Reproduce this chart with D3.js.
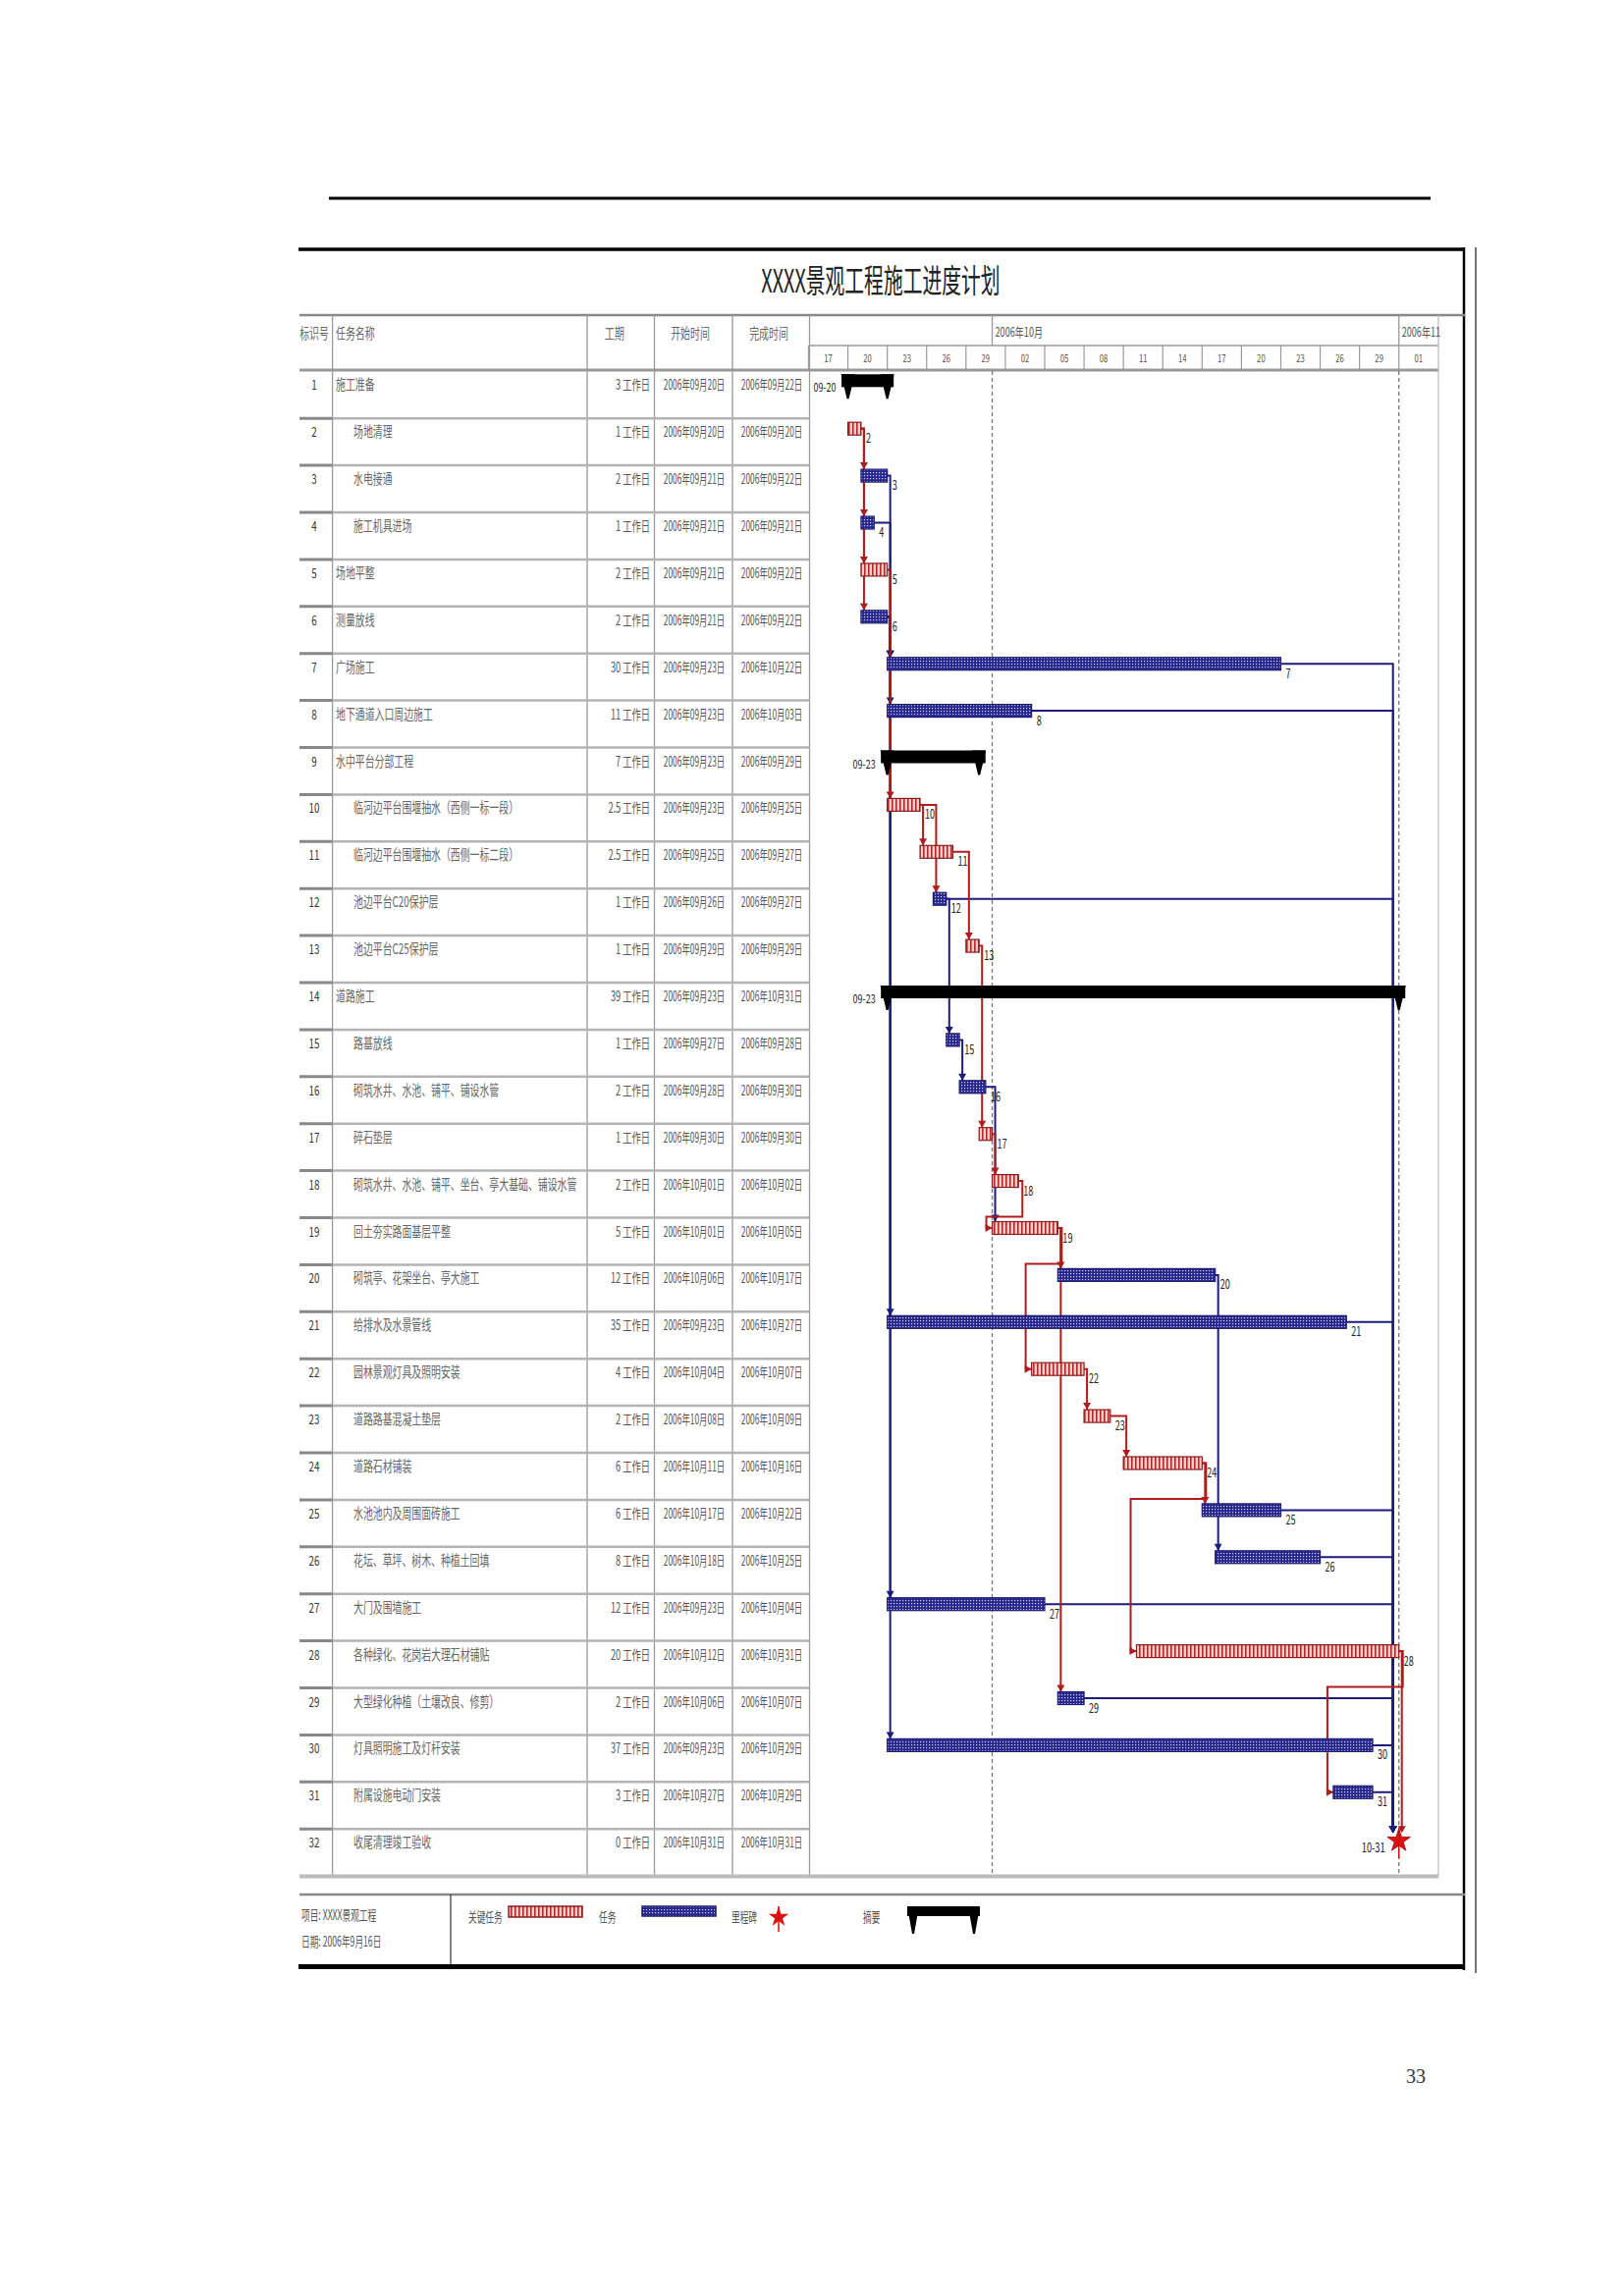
<!DOCTYPE html>
<html><head><meta charset="utf-8">
<script src="https://cdn.jsdelivr.net/npm/d3@7"></script>
<style>html,body{margin:0;padding:0;background:#fff;}svg{display:block;}</style>
</head><body>
<svg id="c" width="1654" height="2339"></svg>
<script>
// ---------------- data ----------------
const chartTitle = "XXXX景观工程施工进度计划";
const headerLabels = ["标识号", "任务名称", "工期", "开始时间", "完成时间"];
const ids = d3.range(1, 33);
const taskNames = [
  "施工准备", "场地清理", "水电接通", "施工机具进场", "场地平整", "测量放线",
  "广场施工", "地下通道入口周边施工", "水中平台分部工程",
  "临河边平台围堰抽水（西侧一标一段）", "临河边平台围堰抽水（西侧一标二段）",
  "池边平台C20保护层", "池边平台C25保护层", "道路施工", "路基放线",
  "砌筑水井、水池、铺平、铺设水管", "碎石垫层",
  "砌筑水井、水池、铺平、坐台、亭大基础、铺设水管", "回土夯实路面基层平整",
  "砌筑亭、花架坐台、亭大施工", "给排水及水景管线", "园林景观灯具及照明安装",
  "道路路基混凝土垫层", "道路石材铺装", "水池池内及周围面砖施工",
  "花坛、草坪、树木、种植土回填", "大门及围墙施工", "各种绿化、花岗岩大理石材铺贴",
  "大型绿化种植（土壤改良、修剪）", "灯具照明施工及灯杆安装", "附属设施电动门安装",
  "收尾清理竣工验收"
];
const levels = [0,1,1,1,0,0,0,0,0,1,1,1,1,0,1,1,1,1,1,1,1,1,1,1,1,1,1,1,1,1,1,1];
const taskTypes = ["summary","critical","task","task","critical","task","task","task","summary",
  "critical","critical","task","critical","summary","task","task","critical","critical","critical",
  "task","task","critical","critical","critical","task","task","task","critical","task","task","task","milestone"];
const startDates = [
  "2006-09-20 00:00","2006-09-20 00:00","2006-09-21 00:00","2006-09-21 00:00","2006-09-21 00:00","2006-09-21 00:00",
  "2006-09-23 00:00","2006-09-23 00:00","2006-09-23 00:00","2006-09-23 00:00","2006-09-25 12:00","2006-09-26 12:00",
  "2006-09-29 00:00","2006-09-23 00:00","2006-09-27 12:00","2006-09-28 12:00","2006-09-30 00:00","2006-10-01 00:00",
  "2006-10-01 00:00","2006-10-06 00:00","2006-09-23 00:00","2006-10-04 00:00","2006-10-08 00:00","2006-10-11 00:00",
  "2006-10-17 00:00","2006-10-18 00:00","2006-09-23 00:00","2006-10-12 00:00","2006-10-06 00:00","2006-09-23 00:00",
  "2006-10-27 00:00","2006-10-31 23:59"
];
const durations = [3,1,2,1,2,2,30,11,7,2.5,2.5,1,1,39,1,2,1,2,5,12,35,4,2,6,6,8,12,20,2,37,3,0];
const links = [[2,3],[2,4],[2,5],[2,6],[3,7],[4,7],[6,7],[6,8],[6,21],[6,27],[6,30],[5,10],
  [10,11],[10,12],[11,13],[12,15],[13,17],[15,16],[16,19],[17,18],[18,19],[19,20],[19,22],[19,29],
  [22,23],[23,24],[24,25],[24,28],[20,26],[28,31],
  [7,32],[8,32],[12,32],[21,32],[25,32],[26,32],[27,32],[29,32],[30,32],[31,32],[28,32]];
const timeDomain = ["2006-09-17 00:00", "2006-11-04 00:00"];
const monthLabels = [["2006-10-01 00:00","2006年10月"],["2006-11-01 00:00","2006年11"]];
const tickDayLabels = ["17","20","23","26","29","02","05","08","11","14","17","20","23","26","29","01"];
const legendProject = ["项目: XXXX景观工程", "日期: 2006年9月16日"];
const legendItems = ["关键任务", "任务", "里程碑", "摘要"];
const pageNumber = "33";

// ---------------- setup ----------------
const parse = d3.timeParse("%Y-%m-%d %H:%M");
const fmtDate = d3.timeFormat("%Y年%m月%d日");
const fmtShort = d3.timeFormat("%m-%d");
const svg = d3.select("#c");
const FONT = "'Noto Sans CJK SC','Noto Sans',sans-serif";

const x = d3.scaleTime().domain(timeDomain.map(parse)).range([823.5, 1464.8]);
const y = d3.scaleBand().domain(ids).range([378.3, 1911.1]).paddingInner(0).paddingOuter(0);
const RH = y.bandwidth();

const tasks = ids.map((id, i) => {
  const s = parse(startDates[i]);
  const e = new Date(+s + durations[i] * 864e5);
  return {id, name: taskNames[i], level: levels[i], type: taskTypes[i], start: s, end: e, dur: durations[i]};
});
const byId = new Map(tasks.map(t => [t.id, t]));

function sText(g, px, py, str, o = {}) {
  return g.append("text")
    .attr("transform", `translate(${px},${py}) scale(${o.sx ?? 0.66},1)`)
    .attr("text-anchor", o.anchor || "start")
    .attr("font-size", o.size || 15)
    .attr("font-family", o.family || FONT)
    .attr("font-weight", o.weight || "normal")
    .attr("fill", o.fill || "#555")
    .text(str);
}
function line(g, x1, y1, x2, y2, stroke, w, dash) {
  const l = g.append("line").attr("x1", x1).attr("y1", y1).attr("x2", x2).attr("y2", y2)
    .attr("stroke", stroke).attr("stroke-width", w);
  if (dash) l.attr("stroke-dasharray", dash);
  return l;
}

// patterns
const defs = svg.append("defs");
const pc = defs.append("pattern").attr("id", "crit").attr("patternUnits", "userSpaceOnUse").attr("width", 4).attr("height", 4);
pc.append("rect").attr("width", 4).attr("height", 4).attr("fill", "#f5cccc");
pc.append("rect").attr("width", 1.6).attr("height", 4).attr("fill", "#b22a2a");
const pt = defs.append("pattern").attr("id", "task").attr("patternUnits", "userSpaceOnUse").attr("width", 3).attr("height", 3);
pt.append("rect").attr("width", 3).attr("height", 3).attr("fill", "#26268e");
pt.append("rect").attr("x", 1).attr("y", 1).attr("width", 1.2).attr("height", 1.2).attr("fill", "#cfcff2");

// ---------------- page frame ----------------
const frame = svg.append("g");
line(frame, 335, 202, 1457, 202, "#000", 3);
line(frame, 304, 254, 1492, 254, "#000", 3.5);
line(frame, 1491, 252, 1491, 2007, "#000", 2.5);
line(frame, 1503, 252, 1503, 2010, "#444", 1.5);
line(frame, 304, 2003.5, 1492, 2003.5, "#000", 5);

// title
sText(frame, 897, 298, chartTitle, {size: 33, sx: 0.6, anchor: "middle", fill: "#222"});

// ---------------- table grid ----------------
const grid = svg.append("g");
line(grid, 305, 321, 1492, 321, "#888", 2.5);
line(grid, 824.5, 352, 1465, 352, "#999", 1.5);
line(grid, 305, 377, 1465, 377, "#999", 3);
[338.6, 598, 666.5, 746, 824.5].forEach(cx => line(grid, cx, 321, cx, 1911, "#999", 1.3));
line(grid, 1465, 321, 1465, 1911, "#bbb", 1.2);
ids.slice(1).forEach(id => {
  const yy = y(id);
  line(grid, 338.6, yy, 824.5, yy, "#b3b3b3", 2.5);
  line(grid, 305, yy, 338.6, yy, "#888", 3);
});
line(grid, 305, 1911.5, 1465, 1911.5, "#bbb", 4);

// header labels
const hx = [[320, "middle"], [342, "start"], [626, "middle"], [703, "middle"], [783, "middle"]];
headerLabels.forEach((h, i) => sText(grid, hx[i][0], 345, h, {anchor: hx[i][1], size: 15, sx: 0.66, fill: "#666"}));

// timescale
monthLabels.forEach(([d, lab]) => {
  const mx = x(parse(d));
  line(grid, mx, 321, mx, 352, "#999", 1.3);
  sText(grid, mx + 3, 343, lab, {size: 13, sx: 0.7, fill: "#555"});
});
const tickDates = d3.timeDay.every(1).range(x.domain()[0], x.domain()[1]).filter((d, i) => i % 3 === 0);
tickDates.forEach((d, i) => {
  const tx = x(d);
  line(grid, tx, 352, tx, 377, "#999", 1.2);
  if (i < tickDayLabels.length) sText(grid, tx + 20, 369, tickDayLabels[i], {size: 11, sx: 0.7, anchor: "middle", fill: "#555"});
});
// dashed month lines in chart body
monthLabels.forEach(([d]) => {
  const mx = x(parse(d));
  line(grid, mx, 378, mx, 1910, "#777", 1.3, "4,3");
});

// table text
const tbl = svg.append("g");
tasks.forEach(t => {
  const top = y(t.id);
  const by = top + 19;
  sText(tbl, 320, by, String(t.id), {anchor: "middle", size: 14, sx: 0.7, fill: "#333"});
  sText(tbl, t.level ? 360 : 342, by, t.name, {size: 15, sx: 0.66, fill: "#666"});
  sText(tbl, 662, by, t.dur + " 工作日", {anchor: "end", size: 14, sx: 0.66, fill: "#555"});
  const fin = t.dur === 0 ? t.start : new Date(+t.end - 1);
  sText(tbl, 707, by, fmtDate(t.start), {anchor: "middle", size: 14, sx: 0.6, fill: "#555"});
  sText(tbl, 786, by, fmtDate(fin), {anchor: "middle", size: 14, sx: 0.6, fill: "#555"});
});

// ---------------- links ----------------
const lk = svg.append("g").attr("fill", "none");
const BAR_T = 4, BAR_H = 13, MID = BAR_T + BAR_H / 2;
function arrowDown(g, ax, tip, col) {
  g.append("path").attr("d", `M${ax - 4},${tip - 7}L${ax + 4},${tip - 7}L${ax},${tip}Z`).attr("fill", col).attr("stroke", "none");
}
function arrowRight(g, tip, ay, col) {
  g.append("path").attr("d", `M${tip - 7},${ay - 4}L${tip - 7},${ay + 4}L${tip},${ay}Z`).attr("fill", col).attr("stroke", "none");
}
const sortedLinks = links.slice().sort((a, b) => (byId.get(a[0]).type === "critical") - (byId.get(b[0]).type === "critical"));
sortedLinks.forEach(([p, s]) => {
  const P = byId.get(p), S = byId.get(s);
  const col = P.type === "critical" ? "#b01c1c" : "#1c1c7c";
  const pe = x(P.end), py = y(p) + MID, sx = x(S.start), st = y(s);
  if (S.type === "milestone") {
    const vx = Math.max(pe + 3, sx - 6);
    lk.append("path").attr("d", `M${pe},${py}H${vx}V${st + 2}`).attr("stroke", col).attr("stroke-width", 2);
    arrowDown(lk, vx, st + 4, col);
  } else if (sx + 1 >= pe) {
    const vx = sx + 3;
    lk.append("path").attr("d", `M${pe},${py}H${vx}V${st + BAR_T}`).attr("stroke", col).attr("stroke-width", 2);
    arrowDown(lk, vx, st + BAR_T, col);
  } else {
    const xe = pe + 4, yb = y(p) + RH - 1, sy = st + MID;
    lk.append("path").attr("d", `M${pe},${py}H${xe}V${yb}H${sx - 6}V${sy}H${sx}`).attr("stroke", col).attr("stroke-width", 2);
    arrowRight(lk, sx, sy, col);
  }
});

// ---------------- bars ----------------
const bars = svg.append("g");
function summaryShape(g, xs, xe, top) {
  g.append("rect").attr("x", xs - 6.5).attr("y", top + 3).attr("width", xe - xs + 13).attr("height", 13).attr("fill", "#000");
  [xs, xe].forEach(cx => g.append("path").attr("d", `M${cx - 7},${top + 3}L${cx + 7},${top + 3}L${cx + 1},${top + 28}L${cx - 1},${top + 28}Z`).attr("fill", "#000"));
}
tasks.forEach(t => {
  const top = y(t.id);
  const xs = x(t.start), xe = x(t.end);
  if (t.type === "summary") {
    summaryShape(bars, xs, xe, top);
    sText(bars, xs - 12, top + 21, fmtShort(t.start), {anchor: "end", size: 12, sx: 0.75, fill: "#222"});
  } else if (t.type === "milestone") {
    bars.append("path").attr("d", d3.symbol(d3.symbolStar, 170)())
      .attr("transform", `translate(${xs},${top + 12})`).attr("fill", "#e01010").attr("stroke", "#900").attr("stroke-width", 0.8);
    line(bars, xs, top + 2, xs, top + 30, "#d01010", 1.5);
    sText(bars, xs - 14, top + 24, fmtShort(t.start), {anchor: "end", size: 13, sx: 0.72, fill: "#222"});
  } else {
    const crit = t.type === "critical";
    bars.append("rect").attr("x", xs).attr("y", top + BAR_T).attr("width", Math.max(1, xe - xs)).attr("height", BAR_H)
      .attr("fill", crit ? "url(#crit)" : "url(#task)").attr("stroke", crit ? "#8b1c1c" : "#1c1c70").attr("stroke-width", 1.2);
    sText(bars, xe + 5, top + 25, String(t.id), {size: 13, sx: 0.7, fill: "#222"});
  }
});

// ---------------- legend ----------------
const lg = svg.append("g");
line(lg, 305, 1930, 1492, 1930, "#888", 2.5);
line(lg, 459, 1930, 459, 2002, "#333", 1.2);
sText(lg, 307, 1956, legendProject[0], {size: 14, sx: 0.62, fill: "#555"});
sText(lg, 307, 1983, legendProject[1], {size: 14, sx: 0.62, fill: "#555"});
sText(lg, 477, 1958, legendItems[0], {size: 14, sx: 0.62, fill: "#555"});
lg.append("rect").attr("x", 518).attr("y", 1942).attr("width", 75).attr("height", 11).attr("fill", "url(#crit)").attr("stroke", "#8b1c1c").attr("stroke-width", 1.5);
sText(lg, 610, 1958, legendItems[1], {size: 14, sx: 0.62, fill: "#555"});
lg.append("rect").attr("x", 654).attr("y", 1942).attr("width", 75).attr("height", 10).attr("fill", "url(#task)").attr("stroke", "#1c1c70").attr("stroke-width", 1.5);
sText(lg, 745, 1958, legendItems[2], {size: 14, sx: 0.62, fill: "#555"});
lg.append("path").attr("d", d3.symbol(d3.symbolStar, 130)()).attr("transform", "translate(793,1953)").attr("fill", "#e01010");
line(lg, 793, 1942, 793, 1968, "#d01010", 1.5);
sText(lg, 879, 1958, legendItems[3], {size: 14, sx: 0.62, fill: "#555"});
lg.append("rect").attr("x", 924).attr("y", 1942).attr("width", 74).attr("height", 10).attr("fill", "#000");
[930, 992].forEach(cx => lg.append("path").attr("d", `M${cx - 6},1942L${cx + 6},1942L${cx + 1},1970L${cx - 1},1970Z`).attr("fill", "#000"));

// page number
svg.append("text").attr("x", 1442).attr("y", 2122).attr("text-anchor", "middle").attr("font-size", 20)
  .attr("font-family", "'Liberation Serif',serif").attr("fill", "#333").text(pageNumber);
</script>
</body></html>
